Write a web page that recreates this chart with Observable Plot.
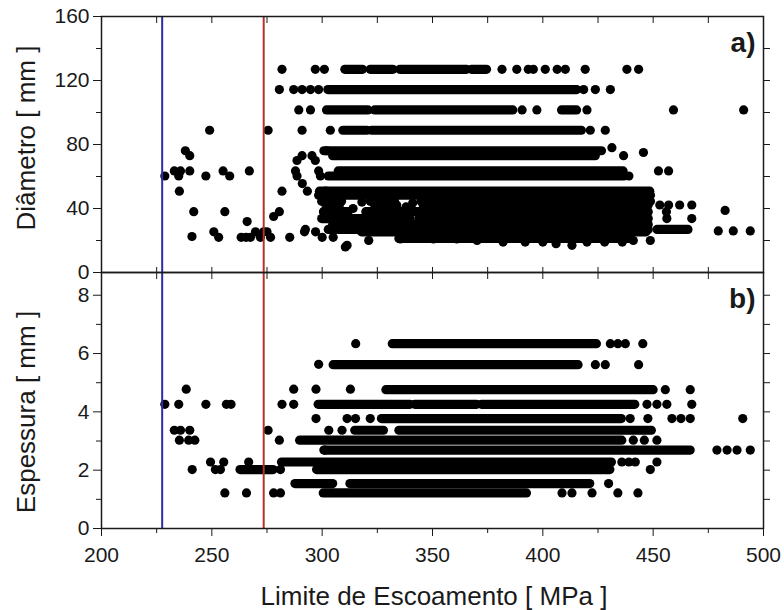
<!DOCTYPE html>
<html><head><meta charset="utf-8">
<script src="https://cdn.jsdelivr.net/npm/d3@7"></script>
<script src="https://cdn.jsdelivr.net/npm/@observablehq/plot@0.6"></script>
<style>
body{margin:0;background:#fff;}
#wrap{position:relative;width:784px;height:610px;overflow:hidden;font-family:"Liberation Sans",Arial,sans-serif;color:#1a1a1a;}
#wrap svg{position:absolute;left:0;overflow:visible;}
.title{position:absolute;font-size:26px;line-height:1;white-space:nowrap;}
</style></head>
<body><div id="wrap"></div>
<script>
// ---- tick values ----
const mpaTicks = [200, 250, 300, 350, 400, 450, 500];
const mpaMinor = [225, 275, 325, 375, 425, 475];
const diamTicks = [0, 40, 80, 120, 160];
const diamMinor = [20, 60, 100, 140];
const espTicks = [0, 2, 4, 6, 8];
const espMinor = [1, 3, 5, 7];
const limitBlue = [227.5];
const limitRed = [273.5];

// ---- panel a) Diâmetro: isolated points [MPa, mm] ----
const diameterPoints = [
  [228.7,60.3],[233,63.5],[235.8,63.5],[235,60.3],[240,63.5],[238,76.1],[240,73],[235.3,50.8],
  [241.8,38],[241,22.5],[247.3,60.3],[249,88.9],[250.9,25.4],[253.1,22],[255.1,63.5],[258.1,60.3],
  [255.9,38],[266,31.8],[267,63.5],[263.3,22],[265.5,22],[267.5,22],[269.8,25.4],[272,22],
  [273.5,25.4],[275,25.4],[276.6,22],[275.5,88.9],[278,35],[280.6,38],[281.8,50.8],[285.3,22],
  [292,25.4],[297,25.4],[300,22],
  [281.8,127],[296.9,127],[301,127],[280.6,114.3],[287.1,114.3],[290.9,114.3],[294.7,114.3],[298.4,114.3],
  [289.4,101.6],[294.7,101.6],[290.9,88.9],[303.7,88.9],
  [288.6,70],[290.9,73],[295.4,73],[296.9,70],[302,76.1],
  [287.9,63.5],[288.6,60.3],[298.4,63.5],[299.2,60.3],
  [298.4,48.3],[300.6,38],[302.2,44.5],[301.6,50.8],[291,55.6],[293.3,50.8],[292.4,26.9],[305,22],
  [310.5,16],[321.1,20],[311.3,17],[335.4,21],[350.4,21],[361,21],[370.2,20],[382,19],[392,19],
  [400,19],[406,18],[413.2,17],[420,19],[428,19],[436,19],[441,20],[448.7,20],
  [456.2,33.7],[467.5,33.7],[453,42.2],[457,42.2],[462,42.2],[467.5,42.2],[456,38],
  [482.6,38.8],[479.5,26],[486.3,26],[494,26],[452.4,63.5],[457,63.5],[439,60.3],
  [431.3,78],[436.6,73],[445.6,75],[421.5,88.9],[428.3,88.9],
  [390.6,101.6],[397.3,101.6],[420,101.6],[459.2,101.6],[491,101.6],
  [418.5,114.3],[423.8,114.3],[430.6,114.3],
  [381.5,127],[388.2,127],[393.4,127],[395.7,127],[401.1,127],[406.5,127],[410.2,127],
  [419.2,127],[438.1,127],[443.4,127],
  [314,40],[318,44],[338,41],[341,43.5]
];
// ---- panel a) runs of overlapping points [MPa from, MPa to, mm] ----
const diameterBands = [
  [310.5,318.5,127],[322,332.3,127],[335.4,365.6,127],[367.9,374.7,127],
  [302.8,415.6,114.3],
  [302.2,321,101.6],[324,386.6,101.6],[408.7,415.5,101.6],
  [309.6,320.5,88.9],[322.6,417.7,88.9],
  [301,426.8,76.1],[305,424,73],
  [307.5,436.6,63.5],[303,437,60.3],
  [299,448.7,50.8],[301,449,48.3],
  [300,309,44.5],[322,333,44.5],[345,449,44.5],
  [302,308,42.2],[324,334,42.2],[346,448,42.2],
  [301,312,38],[320,448,38],
  [300,340,33.7],[344,448,33.7],
  [305,448,30],
  [303,448,26.9],[452,466,26.9],
  [318,447,25.4],
  [335,440,21.3]
];

// ---- panel b) Espessura: isolated points [MPa, mm] ----
const thicknessPoints = [
  [228.7,4.26],[235,4.26],[238.4,4.78],[247.3,4.26],[256.6,4.26],[258.7,4.26],
  [233,3.37],[235.8,3.37],[240,3.37],[235.3,3.03],[239.5,3.03],[242.3,3.03],
  [241.1,2.02],[249.4,2.28],[251.6,2.02],[253.9,2.02],[255.4,2.28],[266.7,2.28],
  [255.9,1.22],[265.7,1.22],[275.5,3.37],[278,1.22],[281.1,1.22],[280.6,3.03],[281.1,2.02],
  [281.8,4.26],[287.1,4.26],[287.1,4.78],[297.2,4.78],[297.2,3.77],[298.4,5.63],[301.2,2.69],
  [303,3.37],[309,3.37],[311.3,3.77],[315.1,3.77],[321.8,3.77],[312.8,4.78],[315.2,6.34],
  [430.6,6.34],[434,6.34],[437.4,6.34],[445.3,6.34],
  [423.8,5.62],[428.3,5.62],[443.4,5.62],
  [455.5,4.76],[466.8,4.76],
  [447.2,4.26],[451.7,4.26],[456.2,4.26],[467.5,4.26],
  [439.6,3.77],[447.6,3.77],[458.5,3.77],[462.6,3.77],[466.8,3.77],[490.6,3.77],
  [441,3.03],[446,3.03],[451.7,3.03],
  [478.9,2.69],[483.5,2.69],[488,2.69],[494,2.69],
  [435.8,2.28],[439,2.28],[441.9,2.28],[451.7,2.28],[448.7,2.02],
  [429.8,1.54],[408.7,1.22],[413.2,1.22],[422.3,1.22],[434,1.22],[443.1,1.22]
];
// ---- panel b) runs of overlapping points [MPa from, MPa to, mm] ----
const thicknessBands = [
  [332,424.5,6.34],
  [305.2,416.2,5.62],
  [329.1,450.2,4.76],
  [298.4,340,4.26],[342.2,370.2,4.26],[372.4,441.9,4.26],
  [327.1,435.8,3.77],
  [315,328,3.37],[335,449.4,3.37],
  [290,436,3.03],
  [301,467,2.69],
  [281.8,431.3,2.28],
  [263,278,2.02],[297.7,430.6,2.02],
  [287.9,305,1.54],[312.8,421.5,1.54],
  [300.7,392.8,1.22]
];

const FONT = '"Liberation Sans", Arial, sans-serif';
const INK = "#1a1a1a";
const DOT_R = 4.6;
const baseStyle = {background: "transparent", fontFamily: FONT, fontSize: "21px", color: INK, overflow: "visible"};
const allX = mpaTicks.concat(mpaMinor);

function scatterMarks(points, bands) {
  return [
    Plot.ruleY(bands, {x1: d => d[0], x2: d => d[1], y: d => d[2], stroke: "black", strokeWidth: DOT_R * 2, strokeLinecap: "round"}),
    Plot.dot(points, {x: d => d[0], y: d => d[1], r: DOT_R, fill: "black", stroke: "none"}),
    Plot.ruleX(limitBlue, {x: d => d, stroke: "#2b2ba6", strokeWidth: 2}),
    Plot.ruleX(limitRed, {x: d => d, stroke: "#b5322b", strokeWidth: 2})
  ];
}

// ---- top panel ----
const topPlot = Plot.plot({
  width: 784, height: 273, marginLeft: 101, marginRight: 21, marginTop: 16, marginBottom: 1,
  style: baseStyle,
  x: {domain: [200, 500], axis: null},
  y: {domain: [0, 160]},
  marks: [
    ...scatterMarks(diameterPoints, diameterBands),
    Plot.tickX(allX, {x: d => d, insetBottom: 249, stroke: INK}),
    Plot.tickX(allX, {x: d => d, insetTop: 251, stroke: INK}),
    Plot.axisY({ticks: diamTicks, anchor: "left", tickSize: 8, tickPadding: 4, label: null, fontSize: 21}),
    Plot.axisY({ticks: diamMinor, anchor: "left", tickSize: 5, tickFormat: () => "", label: null}),
    Plot.axisY({ticks: diamTicks.concat(diamMinor).filter(v => v > 0 && v < 160), anchor: "right", tickSize: 6, tickFormat: () => "", label: null}),
    Plot.frame({stroke: INK, strokeWidth: 1.5}),
    Plot.text(["a)"], {text: d => d, frameAnchor: "top-right", dx: -8, dy: 27, lineAnchor: "middle", fontWeight: "bold", fontSize: 28, fill: INK})
  ]
});

// ---- bottom panel ----
const botPlot = Plot.plot({
  width: 784, height: 348, marginLeft: 101, marginRight: 21, marginTop: 10, marginBottom: 82,
  style: baseStyle,
  x: {domain: [200, 500]},
  y: {domain: [0, 8.78]},
  marks: [
    ...scatterMarks(thicknessPoints, thicknessBands),
    Plot.tickX(allX, {x: d => d, insetBottom: 249, stroke: INK}),
    Plot.axisX({ticks: mpaTicks, anchor: "bottom", tickSize: 8, tickPadding: 11, label: null, fontSize: 21}),
    Plot.axisX({ticks: mpaMinor, anchor: "bottom", tickSize: 5, tickFormat: () => "", label: null}),
    Plot.axisY({ticks: espTicks, anchor: "left", tickSize: 8, tickPadding: 4, label: null, fontSize: 21}),
    Plot.axisY({ticks: espMinor, anchor: "left", tickSize: 5, tickFormat: () => "", label: null}),
    Plot.axisY({ticks: espTicks.concat(espMinor).filter(v => v > 0), anchor: "right", tickSize: 6, tickFormat: () => "", label: null}),
    Plot.frame({stroke: INK, strokeWidth: 1.5}),
    Plot.text(["b)"], {text: d => d, frameAnchor: "top-right", dx: -8, dy: 27, lineAnchor: "middle", fontWeight: "bold", fontSize: 28, fill: INK})
  ]
});

const wrap = document.getElementById("wrap");
topPlot.style.top = "0px";
botPlot.style.top = "262px";
wrap.appendChild(botPlot);
wrap.appendChild(topPlot);

function addTitle(text, cx, cy, rotate) {
  const el = document.createElement("div");
  el.className = "title";
  el.textContent = text;
  el.style.left = cx + "px";
  el.style.top = cy + "px";
  el.style.transform = "translate(-50%, -50%)" + (rotate ? " rotate(-90deg)" : "");
  wrap.appendChild(el);
}
addTitle("Diâmetro [ mm ]", 26, 138, true);
addTitle("Espessura [ mm ]", 26, 412, true);
addTitle("Limite de Escoamento [ MPa ]", 434, 596, false);
</script></body></html>
